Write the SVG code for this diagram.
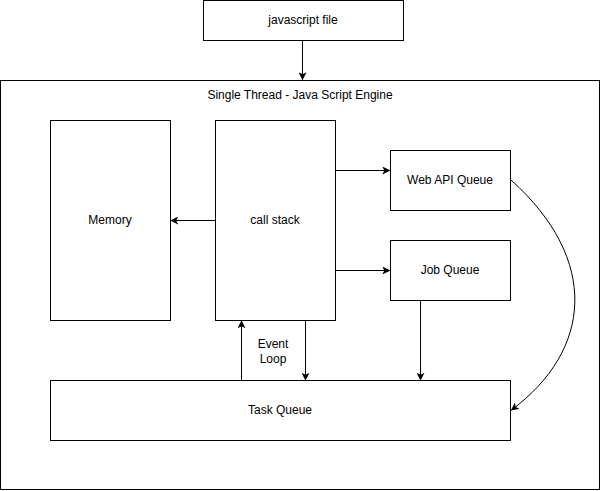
<svg xmlns="http://www.w3.org/2000/svg" width="601" height="491" viewBox="0 0 601 491">
<style>
.box{fill:#fff;stroke:#000;stroke-width:1}
.t{font-family:"Liberation Sans",Arial,sans-serif;font-size:12px;fill:#000;text-anchor:middle;dominant-baseline:central}
.c{fill:none;stroke:#000;stroke-width:1}
</style>
<defs>
<marker id="ah" viewBox="0 0 10 10" refX="9" refY="5" markerWidth="8" markerHeight="8" markerUnits="userSpaceOnUse" orient="auto">
<path d="M0,0 L10,5 L0,10 L2.5,5 Z" fill="#000"/>
</marker>
</defs>
<rect width="601" height="491" fill="#fff"/>
<g id="engine"><rect class="box" x="0.5" y="80.5" width="599" height="409"/><text class="t" x="300" y="95">Single Thread - Java Script Engine</text></g>
<g id="jsfile"><rect class="box" x="203.5" y="0.5" width="200" height="40"/><text class="t" x="303" y="20">javascript file</text></g>
<g id="memory"><rect class="box" x="50.5" y="120.5" width="120" height="200"/><text class="t" x="110" y="220">Memory</text></g>
<g id="callstack"><rect class="box" x="215.5" y="120.5" width="120" height="200"/><text class="t" x="275" y="220">call stack</text></g>
<g id="webapi"><rect class="box" x="390.5" y="150.5" width="120" height="60"/><text class="t" x="450" y="180">Web API Queue</text></g>
<g id="jobqueue"><rect class="box" x="390.5" y="240.5" width="120" height="60"/><text class="t" x="450" y="270">Job Queue</text></g>
<g id="taskqueue"><rect class="box" x="50.5" y="380.5" width="460" height="60"/><text class="t" x="280" y="410">Task Queue</text></g>
<g id="connectors">
<path class="c" d="M302.5,40.5 V79.5" marker-end="url(#ah)"/>
<path class="c" d="M215.5,220.5 H171" marker-end="url(#ah)"/>
<path class="c" d="M335.5,170.5 H389.5" marker-end="url(#ah)"/>
<path class="c" d="M335.5,270.5 H389.5" marker-end="url(#ah)"/>
<path class="c" d="M241.5,380.5 V321" marker-end="url(#ah)"/>
<path class="c" d="M305.5,320.5 V380" marker-end="url(#ah)"/>
<path class="c" d="M420.5,300.5 V380" marker-end="url(#ah)"/>
<path class="c" d="M511,180 C600,260 592,350 511.5,410" marker-end="url(#ah)"/>
<text class="t" x="273" y="344">Event</text>
<text class="t" x="273" y="359">Loop</text>
</g>
</svg>
